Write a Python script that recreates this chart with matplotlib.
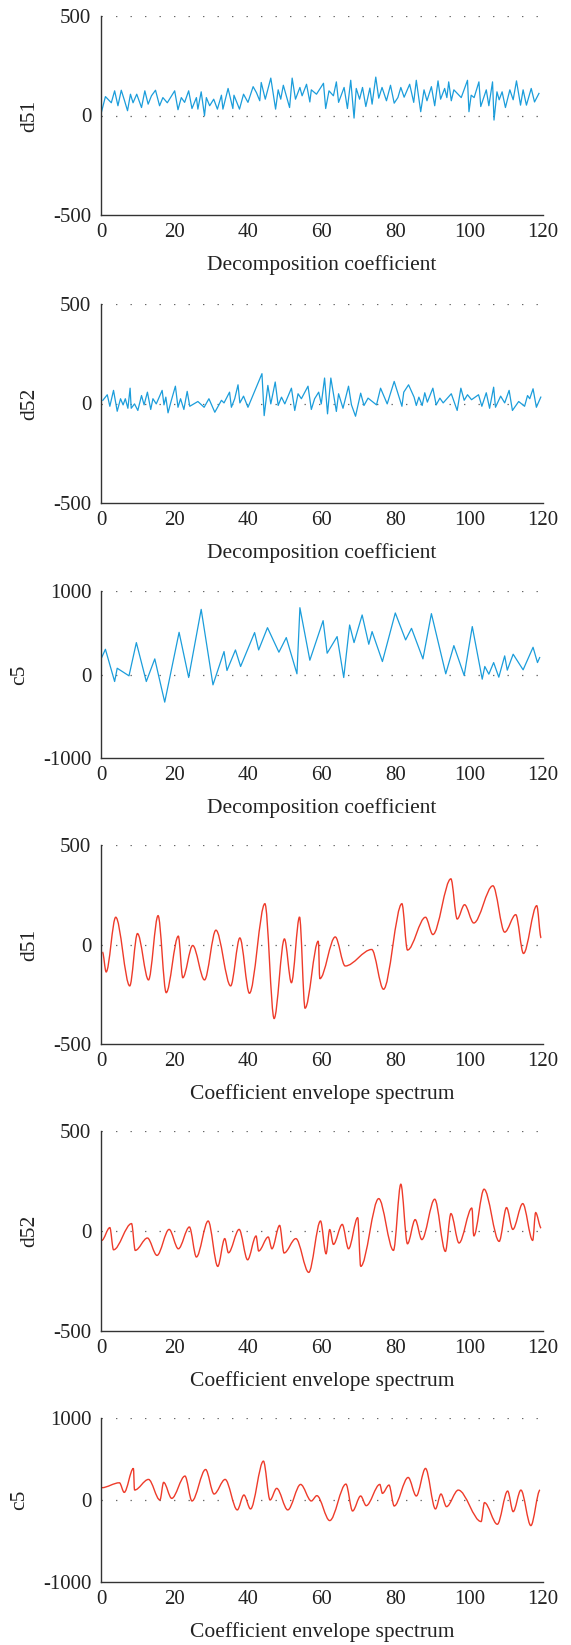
import numpy as np
import matplotlib.pyplot as plt
from matplotlib.path import Path
from matplotlib.patches import PathPatch

plt.rcParams['font.family'] = ['Liberation Serif', 'DejaVu Serif']
plt.rcParams['axes.unicode_minus'] = False

BLUE = '#1b9ddb'
RED = '#ee3b2a'

# --- decomposition coefficients (blue) ---
d51_x = [0.1, 1.2, 2.8, 3.7, 4.6, 5.5, 6.4, 7.2, 8.0, 8.7, 9.7, 11.0, 11.9, 12.8, 13.7,
         14.8, 15.9, 16.8, 18.0, 20.0, 20.9, 21.8, 22.7, 23.8, 24.7, 25.9, 26.3, 27.2,
         28.1, 28.6, 29.5, 30.6, 31.6, 32.7, 33.1, 34.5, 35.8, 36.1, 37.6, 38.7, 39.9,
         41.3, 42.2, 43.1, 43.5, 44.6, 46.1, 47.4, 48.1, 48.8, 49.5, 51.2, 51.9, 52.8,
         54.0, 54.6, 55.8, 56.7, 57.1, 58.5, 60.4, 61.0, 61.9, 63.1, 63.9, 64.5, 66.0,
         66.9, 67.8, 68.7, 69.3, 70.2, 71.0, 71.9, 73.0, 73.6, 74.6, 75.4, 76.3, 77.5,
         78.6, 79.6, 80.6, 81.4, 82.3, 83.8, 84.9, 85.6, 86.8, 87.7, 88.5, 89.7, 90.6,
         91.5, 92.2, 93.3, 93.9, 94.4, 95.1, 95.8, 97.8, 99.5, 99.9, 100.5, 101.3, 102.6,
         103.1, 104.6, 105.3, 106.3, 106.7, 107.5, 108.1, 108.9, 109.8, 111.0, 111.9,
         112.8, 113.9, 114.6, 115.5, 116.8, 117.7, 118.9]
d51_y = [15, 95, 64, 124, 49, 127, 74, 24, 107, 64, 107, 40, 124, 57, 99,
         127, 49, 90, 64, 124, 29, 90, 66, 124, 35, 90, 32, 119,
         -1, 90, 49, 82, 32, 102, 32, 136, 35, 102, 32, 107, 66,
         145, 115, 74, 166, 82, 188, 32, 129, 82, 152, 40, 188, 82,
         141, 99, 157, 68, 129, 107, 162, 35, 124, 99, 169, 66, 141,
         35, 177, -13, 136, 82, 141, 45, 138, 57, 193, 87, 141, 74,
         152, 62, 90, 141, 92, 157, 66, 177, 19, 129, 74, 145, 49,
         174, 82, 136, 90, 169, 74, 129, 90, 177, 19, 102, 90, 169,
         45, 129, 49, 169, -23, 119, 79, 119, 40, 129, 79,
         174, 52, 129, 52, 136, 68, 111]

d52_x = [0.5, 1.7, 2.4, 3.4, 4.4, 5.3, 6.0, 6.6, 7.3, 7.9, 8.2, 9.1, 10.0, 11.0, 11.7,
         12.6, 13.5, 14.1, 15.0, 15.8, 16.6, 17.1, 17.6, 18.2, 19.1, 20.2, 20.9, 21.6,
         22.5, 23.4, 24.1, 26.3, 28.0, 29.3, 30.9, 32.7, 33.4, 34.9, 35.4, 36.3, 37.2,
         37.7, 38.7, 39.9, 43.7, 44.3, 45.3, 46.1, 47.3, 48.1, 49.0, 49.9, 51.7, 52.6,
         53.5, 54.4, 56.2, 57.1, 58.0, 59.1, 59.8, 60.7, 61.5, 62.4, 63.9, 64.5, 65.7,
         67.2, 68.0, 69.1, 70.5, 71.4, 72.5, 74.8, 75.9, 77.7, 79.6, 81.7, 82.2, 83.5,
         85.0, 85.6, 86.3, 87.2, 87.9, 88.6, 90.1, 91.0, 92.0, 92.9, 95.1, 96.7, 97.7,
         98.6, 99.5, 100.6, 102.5, 103.4, 104.6, 105.5, 106.6, 107.1, 108.5, 109.6,
         110.8, 111.7, 113.4, 115.0, 115.8, 116.4, 117.3, 118.2, 119.4]
d52_y = [16, 44, -14, 66, -39, 24, -7, 24, -24, 77, -24, -2, -35, 40, -7,
         57, -30, 24, -2, 32, 66, -7, 32, -47, 16, 87, -19, 24,
         -30, 61, -14, 10, -19, 24, -44, 16, 3, 57, -19, 24, 94,
         3, 37, -19, 150, -61, 91, -2, 108, -10, 32, -2, 77, -35,
         49, 24, 87, -30, 24, 57, -2, 128, -52, 128, -40, 49, -24,
         87, -7, -64, 52, -10, 27, -7, 77, -2, 111, -14, 57, 94,
         32, -10, 32, -10, 54, 7, 77, -7, 27, 3, 49, -35, 77,
         16, 44, 19, 44, -14, 54, -24, 82, -19, 37, 3,
         66, -35, 10, -14, 40, 24, 74, -19, 32]

c5_x = [0.1, 1.2, 3.7, 4.4, 7.6, 9.6, 12.3, 14.6, 17.3, 21.2, 23.8, 27.2, 30.4, 33.4,
        34.2, 36.5, 37.9, 41.7, 42.8, 45.2, 48.3, 50.3, 53.2, 54.0, 56.7, 60.3, 61.4,
        64.1, 65.9, 67.5, 68.7, 70.9, 72.7, 73.6, 76.4, 79.9, 82.7, 84.3, 87.4, 89.7,
        93.6, 95.8, 98.6, 100.8, 103.5, 104.2, 105.3, 106.6, 108.0, 109.6, 110.3, 111.9,
        114.6, 117.3, 118.5, 119.1]
c5_y = [195, 302, -84, 75, -16, 382, -84, 187, -331, 505, -36, 780, -124, 275,
        48, 294, 96, 502, 294, 561, 267, 442, 8, 800, 171, 645, 255,
        454, -36, 593, 382, 713, 362, 514, 155, 737, 414, 553, 187, 729,
        8, 346, -12, 574, -56, 96, 4, 143, -32, 223, 52, 243,
        56, 326, 143, 203]

# --- coefficient envelope spectrum (red), turning points of the smoothed curves ---
e51_x = [0.4, 1.4, 4.0, 7.8, 9.9, 12.9, 15.5, 17.7, 21.0, 22.2, 24.9, 28.1, 31.2, 35.2,
         37.7, 40.3, 44.5, 47.0, 49.8, 51.7, 53.9, 55.4, 59.0, 59.4, 63.6, 66.3, 73.5,
         76.7, 81.7, 83.2, 88.1, 90.1, 95.0, 96.7, 98.7, 101.2, 106.4, 109.6, 112.6,
         114.7, 118.3, 119.5]
e51_y = [-38, -138, 137, -208, 55, -178, 145, -242, 42, -167, -5, -178, 72, -208,
         33, -245, 205, -372, 28, -192, 138, -320, 17, -172, 38, -108, -25,
         -225, 205, -28, 137, 50, 330, 128, 200, 108, 295, 62, 150,
         -45, 195, 33]

e52_x = [0.2, 2.4, 3.4, 8.3, 9.3, 12.6, 15.2, 18.5, 21.0, 24.0, 25.9, 29.1, 31.7, 33.6,
         34.6, 37.5, 39.8, 42.1, 42.8, 45.4, 46.4, 48.5, 49.7, 52.9, 56.4, 59.6, 61.1,
         62.1, 63.1, 65.5, 67.2, 69.7, 70.5, 75.4, 79.4, 81.4, 83.2, 85.3, 87.1, 90.6,
         93.5, 95.0, 97.2, 100.7, 101.2, 104.0, 108.1, 110.1, 111.8, 114.5, 117.2, 118.0,
         119.5]
e52_y = [-47, 17, -94, 37, -97, -35, -122, 8, -89, 20, -130, 50, -177, -38,
         -109, 8, -144, -25, -100, -30, -89, 28, -110, -38, -207, 50, -114,
         7, -67, 33, -89, 67, -177, 162, -97, 234, -64, 57, -43, 159,
         -102, 87, -60, 115, -25, 209, -52, 117, 8, 137, -47, 92,
         15]

ec5_x = [0.2, 5.0, 6.3, 8.8, 9.1, 12.9, 16.0, 17.0, 19.2, 22.8, 24.7, 28.4, 30.7, 33.7,
         37.0, 38.8, 40.6, 44.1, 45.9, 47.7, 50.7, 54.2, 57.1, 58.6, 62.1, 66.5, 68.3,
         70.5, 72.0, 75.7, 76.4, 78.2, 79.6, 83.4, 85.6, 88.1, 90.8, 92.3, 93.8, 97.0,
         103.2, 104.1, 107.6, 110.4, 111.9, 114.0, 116.7, 119.2]
ec5_y = [150, 210, 93, 385, 121, 251, 0, 215, 20, 292, -12, 372, 73, 251,
         -121, 61, -109, 474, 0, 142, -121, 190, -12, 53, -251, 194, -134,
         49, -69, 190, 81, 182, -73, 275, 49, 385, -109, 73, -81, 121,
         -263, -32, -296, 109, -142, 121, -312, 121]

panels = [
    (d51_x, d51_y, 'd51', 500, 'Decomposition coefficient', False),
    (d52_x, d52_y, 'd52', 500, 'Decomposition coefficient', False),
    (c5_x, c5_y, 'c5', 1000, 'Decomposition coefficient', False),
    (e51_x, e51_y, 'd51', 500, 'Coefficient envelope spectrum', True),
    (e52_x, e52_y, 'd52', 500, 'Coefficient envelope spectrum', True),
    (ec5_x, ec5_y, 'c5', 1000, 'Coefficient envelope spectrum', True),
]

# axes boxes in pixels: (top, bottom)
boxes = [(16, 215), (304, 503), (591, 758), (845, 1044), (1131, 1331), (1418, 1582)]
W, H = 571, 1645
left_px, right_px = 101, 543


def smooth_path(xs, ys):
    # smoothed line through the turning points, flat tangent at each one
    verts = [(xs[0], ys[0])]
    codes = [Path.MOVETO]
    for i in range(1, len(xs)):
        dx = xs[i] - xs[i - 1]
        verts += [(xs[i - 1] + dx / 3, ys[i - 1]), (xs[i] - dx / 3, ys[i]), (xs[i], ys[i])]
        codes += [Path.CURVE4] * 3
    return Path(verts, codes)


fig = plt.figure(figsize=(W / 100, H / 100), dpi=100)

for (xs, ys, ylab, lim, xlab, smooth), (top, bot) in zip(panels, boxes):
    ax = fig.add_axes([left_px / W, 1 - bot / H, (right_px - left_px) / W, (bot - top) / H])
    if smooth:
        ax.add_patch(PathPatch(smooth_path(xs, ys), fill=False, edgecolor=RED, lw=1.0))
    else:
        ax.plot(xs, ys, color=BLUE, lw=0.9)
    ax.set_xlim(0, 120)
    ax.set_ylim(-lim, lim)
    ax.set_xticks([0, 20, 40, 60, 80, 100, 120])
    ax.set_yticks([-lim, 0, lim])
    for v in (0, lim):
        ax.axhline(v, color='#666666', lw=0.9, linestyle=(0, (1.1, 10.5)), zorder=0)
    for s in ('top', 'right'):
        ax.spines[s].set_visible(False)
    for s in ('left', 'bottom'):
        ax.spines[s].set_color('#333333')
        ax.spines[s].set_linewidth(1.0)
    ax.tick_params(length=0, labelsize=15, colors='#222222')
    ax.tick_params(axis='y', pad=7)
    ax.tick_params(axis='x', pad=6)
    ax.set_xlabel(xlab, fontsize=15.5, color='#222222', labelpad=9)
    ax.set_ylabel(ylab, fontsize=15.5, color='#222222', labelpad=10)

fig.savefig('out.png', dpi=100)
